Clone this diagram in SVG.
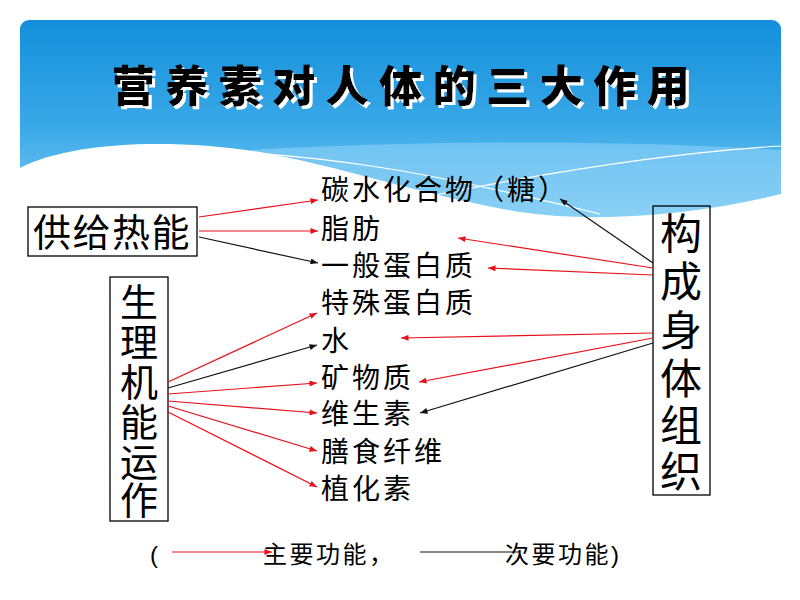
<svg xmlns="http://www.w3.org/2000/svg" width="800" height="600" viewBox="0 0 800 600">
<defs>
<linearGradient id="sky" x1="0" y1="0" x2="0" y2="1">
<stop offset="0" stop-color="#138fdb"/>
<stop offset="0.5" stop-color="#3aa9e8"/>
<stop offset="1" stop-color="#8fd3f6"/>
</linearGradient>
<filter id="wshadow" x="-5%" y="-20%" width="110%" height="150%">
<feOffset in="SourceAlpha" dx="3" dy="3" result="o"/>
<feFlood flood-color="#fff"/>
<feComposite in2="o" operator="in" result="w"/>
<feMerge><feMergeNode in="w"/><feMergeNode in="SourceGraphic"/></feMerge>
</filter>
<marker id="ar" viewBox="0 0 10 8" refX="10" refY="4" markerWidth="8" markerHeight="6" markerUnits="userSpaceOnUse" orient="auto">
<path d="M0,0 L10,4 L0,8 Z" fill="#e8101a"/>
</marker>
<marker id="ab" viewBox="0 0 10 8" refX="10" refY="4" markerWidth="8" markerHeight="6" markerUnits="userSpaceOnUse" orient="auto">
<path d="M0,0 L10,4 L0,8 Z" fill="#111"/>
</marker>
</defs>
<style>
.t{font-family:"Liberation Sans","Noto Sans CJK SC",sans-serif;fill:#000}
.item{font-size:28px;letter-spacing:3px}
.box{fill:none;stroke:#000;stroke-width:1.3}
.big{font-size:38px;text-anchor:middle}
.red{stroke:#e8101a;stroke-width:1.2;fill:none}
.blk{stroke:#111;stroke-width:1.2;fill:none}
.leg{font-size:24px;letter-spacing:2.5px}
.title{font-family:"Noto Sans CJK SC",sans-serif;font-size:43px;font-weight:900;letter-spacing:10.5px;text-anchor:middle}
</style>
<rect width="800" height="600" fill="#fff"/>
<g id="header">
<rect x="20" y="20" width="761" height="215" rx="9" fill="url(#sky)"/>
<path d="M250,150 C420,140 620,140 781,150 L781,240 L250,240 Z" fill="#8dd2f6" opacity="0.6"/>
<path d="M20,168 C70,142 170,138 260,152 C340,166 420,195 520,212 C600,224 700,214 781,194 L781,250 L20,250 Z" fill="#fff"/>
<path d="M165,150 C330,150 460,180 600,214" stroke="#fff" stroke-width="1.2" fill="none"/>
<path d="M430,196 C560,170 680,152 781,146" stroke="#fff" stroke-width="1.2" fill="none"/>
<text class="title" x="406" y="102" fill="#000" filter="url(#wshadow)">营养素对人体的三大作用</text>
</g>
<g id="node-energy">
<rect class="box" x="28" y="207" width="169" height="49"/>
<text class="t" x="33" y="246" style="font-size:38px;letter-spacing:1.5px">供给热能</text>
</g>
<g id="node-physio">
<rect class="box" x="110" y="277" width="58" height="244"/>
<text class="t big" x="139" y="316">生</text>
<text class="t big" x="139" y="356">理</text>
<text class="t big" x="139" y="396">机</text>
<text class="t big" x="139" y="436">能</text>
<text class="t big" x="139" y="476">运</text>
<text class="t big" x="139" y="514">作</text>
</g>
<g id="node-structure">
<rect class="box" x="653" y="206" width="57" height="289"/>
<text class="t big" x="681" y="249" style="font-size:42px">构</text>
<text class="t big" x="681" y="297" style="font-size:42px">成</text>
<text class="t big" x="681" y="346" style="font-size:42px">身</text>
<text class="t big" x="681" y="394" style="font-size:42px">体</text>
<text class="t big" x="681" y="441" style="font-size:42px">组</text>
<text class="t big" x="681" y="487" style="font-size:42px">织</text>
</g>
<g id="nutrients">
<text class="t item" x="321" y="200">碳水化合物（糖）</text>
<text class="t item" x="321" y="239">脂肪</text>
<text class="t item" x="321" y="276">一般蛋白质</text>
<text class="t item" x="321" y="313">特殊蛋白质</text>
<text class="t item" x="321" y="351">水</text>
<text class="t item" x="321" y="388">矿物质</text>
<text class="t item" x="321" y="424">维生素</text>
<text class="t item" x="321" y="462">膳食纤维</text>
<text class="t item" x="321" y="499">植化素</text>
</g>
<g id="connectors">
<line class="red" x1="199" y1="217" x2="318" y2="200" marker-end="url(#ar)"/>
<line class="red" x1="199" y1="231" x2="318" y2="231" marker-end="url(#ar)"/>
<line class="blk" x1="199" y1="237" x2="318" y2="263" marker-end="url(#ab)"/>
<line class="red" x1="168" y1="382" x2="317" y2="313" marker-end="url(#ar)"/>
<line class="blk" x1="168" y1="388" x2="317" y2="345" marker-end="url(#ab)"/>
<line class="red" x1="168" y1="394" x2="317" y2="383" marker-end="url(#ar)"/>
<line class="red" x1="168" y1="401" x2="317" y2="413" marker-end="url(#ar)"/>
<line class="red" x1="168" y1="406" x2="317" y2="451" marker-end="url(#ar)"/>
<line class="red" x1="168" y1="412" x2="317" y2="487" marker-end="url(#ar)"/>
<line class="blk" x1="653" y1="263" x2="560" y2="199" marker-end="url(#ab)"/>
<line class="red" x1="653" y1="268" x2="458" y2="238" marker-end="url(#ar)"/>
<line class="red" x1="653" y1="275" x2="488" y2="268" marker-end="url(#ar)"/>
<line class="red" x1="653" y1="333" x2="401" y2="338" marker-end="url(#ar)"/>
<line class="red" x1="653" y1="338" x2="419" y2="382" marker-end="url(#ar)"/>
<line class="blk" x1="653" y1="343" x2="420" y2="413" marker-end="url(#ab)"/>
</g>
<g id="legend">
<text class="t" x="150" y="563" style="font-size:24px">(</text>
<line class="red" x1="172" y1="552" x2="272" y2="552" marker-end="url(#ar)"/>
<text class="t leg" x="263" y="563">主要功能，</text>
<line class="blk" x1="420" y1="552" x2="520" y2="552"/>
<text class="t leg" x="505" y="563">次要功能)</text>
</g>
</svg>
